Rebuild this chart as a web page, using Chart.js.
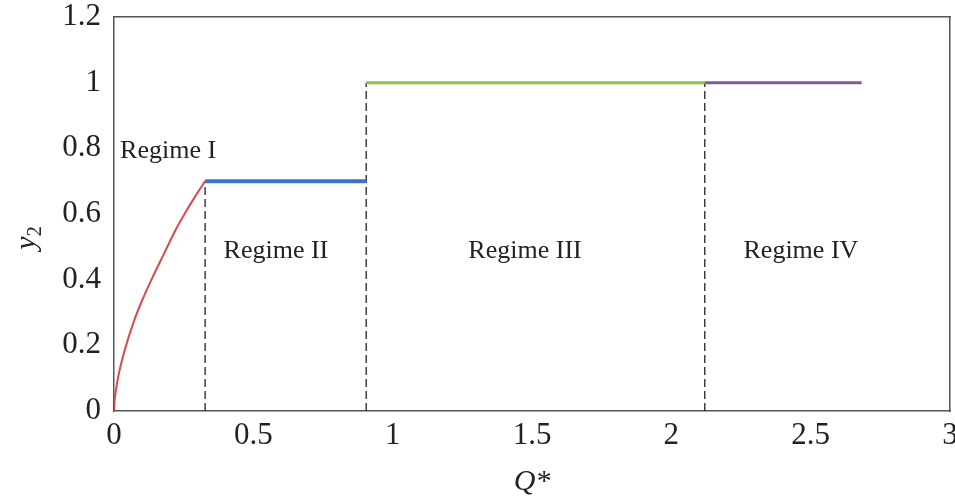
<!DOCTYPE html>
<html>
<head>
<meta charset="utf-8">
<script src="https://cdn.jsdelivr.net/npm/chart.js@4/dist/chart.umd.min.js"></script>
<style>
  html, body { margin: 0; padding: 0; background: #fff; }
  #wrap { width: 955px; height: 499px; }
</style>
</head>
<body>
<div id="wrap"><canvas id="c"></canvas></div>
<script>
// Regime I: y2 rising with Q* until the first transition
const regimeICurveQ = [0, 0.002, 0.005, 0.01, 0.02, 0.04, 0.07, 0.10, 0.14, 0.18, 0.22, 0.26, 0.30, 0.327];
const regimeICurveY = [0, 0.03, 0.052, 0.08, 0.124, 0.19, 0.27, 0.335, 0.41, 0.48, 0.55, 0.61, 0.665, 0.70];

// Transition points in Q* (end of I, end of II, end of III, end of IV)
const regimeBoundsQ = [0.327, 0.905, 2.12, 2.683];
// Plateau values of y2 in regimes II, III, IV
const plateauY = [0.70, 1.0, 1.0];

const regimeNames = ['Regime I', 'Regime II', 'Regime III', 'Regime IV'];

const xTicks = [0, 0.5, 1, 1.5, 2, 2.5, 3];
const xTickLabels = ['0', '0.5', '1', '1.5', '2', '2.5', '3'];
const yTicks = [0, 0.2, 0.4, 0.6, 0.8, 1.0, 1.2];
const yTickLabels = ['0', '0.2', '0.4', '0.6', '0.8', '1', '1.2'];

// Where each regime name sits, in data coordinates
const regimeLabelAnchors = [
  { q: 0.194, y: 0.77 },
  { q: 0.581, y: 0.466 },
  { q: 1.475, y: 0.466 },
  { q: 2.465, y: 0.466 }
];

const SERIF = '"Liberation Serif", "Times New Roman", serif';
const TEXT = '#222';
const FRAME = '#555';

const curvePts = regimeICurveQ.map((q, i) => ({ x: q, y: regimeICurveY[i] }));
const plateau = (i) => [
  { x: regimeBoundsQ[i], y: plateauY[i] },
  { x: regimeBoundsQ[i + 1], y: plateauY[i] }
];
const divider = (i) => {
  const top = Math.max(i === 0 ? regimeICurveY[regimeICurveY.length - 1] : plateauY[i - 1], plateauY[i]);
  return [{ x: regimeBoundsQ[i], y: 0 }, { x: regimeBoundsQ[i], y: top }];
};

const solid = (data, color, width) => ({
  data, borderColor: color, borderWidth: width, showLine: true,
  pointRadius: 0, fill: false, cubicInterpolationMode: 'monotone', borderCapStyle: 'butt'
});
const dashed = (data) => ({
  data, borderColor: '#222', borderWidth: 1.3, borderDash: [8, 4],
  showLine: true, pointRadius: 0, fill: false
});

const labelsPlugin = {
  id: 'regimeText',
  afterDatasetsDraw(chart) {
    const { ctx, scales } = chart;
    const xs = scales.x, ys = scales.y;
    ctx.save();
    ctx.fillStyle = TEXT;
    ctx.font = '26px ' + SERIF;
    ctx.textAlign = 'center';
    ctx.textBaseline = 'alphabetic';
    regimeNames.forEach((name, i) => {
      const a = regimeLabelAnchors[i];
      ctx.fillText(name, xs.getPixelForValue(a.q), ys.getPixelForValue(a.y));
    });

    // x-axis title
    ctx.font = 'italic 30px ' + SERIF;
    ctx.textBaseline = 'middle';
    ctx.fillText('Q*', (chart.chartArea.left + chart.chartArea.right) / 2, 482);

    // y-axis title with subscript
    ctx.translate(27, 238);
    ctx.rotate(-Math.PI / 2);
    ctx.textAlign = 'left';
    ctx.textBaseline = 'alphabetic';
    ctx.font = 'italic 30px ' + SERIF;
    const wy = ctx.measureText('y').width;
    ctx.font = '20px ' + SERIF;
    const w2 = ctx.measureText('2').width;
    const x0 = -(wy + w2) / 2;
    ctx.font = 'italic 30px ' + SERIF;
    ctx.fillText('y', x0, 8);
    ctx.font = '20px ' + SERIF;
    ctx.fillText('2', x0 + wy, 14);
    ctx.restore();
  }
};

const borderOpts = { display: true, color: FRAME, width: 1.5 };
const noPad = (s) => { s.paddingLeft = 0; s.paddingRight = 0; s.paddingTop = 0; s.paddingBottom = 0; };

new Chart(document.getElementById('c'), {
  type: 'scatter',
  data: {
    datasets: [
      solid(curvePts, '#d94a4c', 2),
      solid(plateau(0), '#3b73c6', 4),
      solid(plateau(1), '#98bd4e', 3),
      solid(plateau(2), '#7c5c9e', 3),
      dashed(divider(0)),
      dashed(divider(1)),
      dashed(divider(2))
    ]
  },
  options: {
    responsive: true,
    maintainAspectRatio: false,
    animation: false,
    layout: { padding: 0 },
    plugins: { legend: { display: false }, tooltip: { enabled: false } },
    scales: {
      x: {
        type: 'linear', position: 'bottom', min: 0, max: 3,
        afterBuildTicks: (s) => { s.ticks = xTicks.map(v => ({ value: v })); },
        afterFit: (s) => { s.height = 88; noPad(s); },
        grid: { display: false, drawTicks: false },
        border: borderOpts,
        ticks: {
          padding: 6, color: TEXT, maxRotation: 0, autoSkip: false,
          font: { family: SERIF, size: 31 },
          callback: (v, i) => xTickLabels[i]
        }
      },
      y: {
        type: 'linear', position: 'left', min: 0, max: 1.2,
        afterBuildTicks: (s) => { s.ticks = yTicks.map(v => ({ value: v })); },
        afterFit: (s) => { s.width = 114; noPad(s); },
        grid: { display: false, drawTicks: false },
        border: borderOpts,
        ticks: {
          padding: 13, color: TEXT, autoSkip: false,
          font: { family: SERIF, size: 31 },
          callback: (v, i) => yTickLabels[i]
        }
      },
      xTop: {
        type: 'linear', position: 'top', min: 0, max: 3,
        afterFit: (s) => { s.height = 17; noPad(s); },
        grid: { display: false, drawTicks: false },
        border: borderOpts,
        ticks: { display: false }
      },
      yRight: {
        type: 'linear', position: 'right', min: 0, max: 1.2,
        afterFit: (s) => { s.width = 5; noPad(s); },
        grid: { display: false, drawTicks: false },
        border: borderOpts,
        ticks: { display: false }
      }
    }
  },
  plugins: [labelsPlugin]
});
</script>
</body>
</html>
